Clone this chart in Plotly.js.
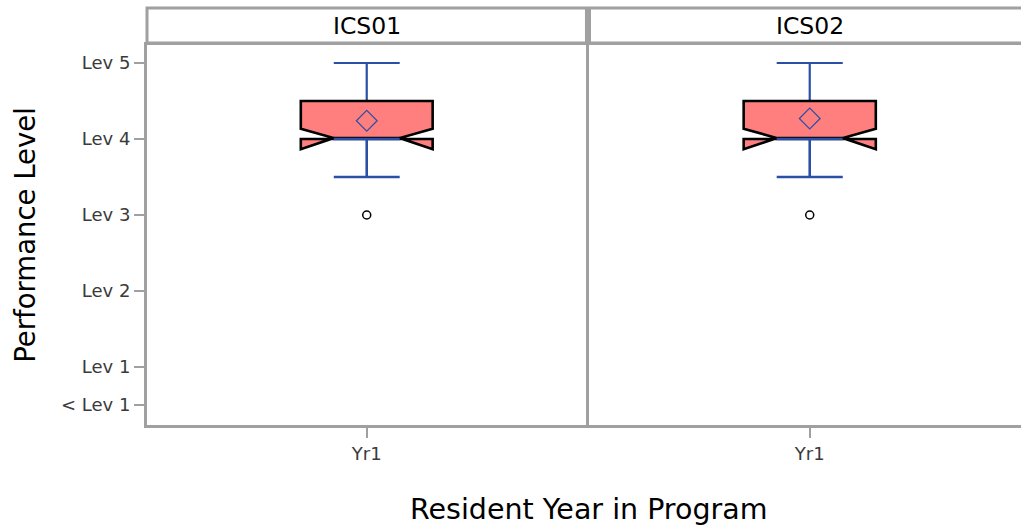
<!DOCTYPE html>
<html>
<head>
<meta charset="utf-8">
<script src="https://cdn.plot.ly/plotly-3.0.1.min.js"></script>
<style>
  html, body { margin: 0; padding: 0; overflow: hidden; background: #fff; }
  #chart { width: 1031px; height: 531px; }
</style>
</head>
<body>
<div id="chart"></div>
<script>
// ---- data ----
const panels = ['ICS01', 'ICS02'];
const categories = ['Yr1'];
const q1Values = [4, 4];
const medianValues = [4, 4];
const q3Values = [4.5, 4.5];
const lowerWhisker = [3.5, 3.5];
const upperWhisker = [5, 5];
const meanValues = [4.24, 4.27];
const notchSpan = [0.135, 0.135];
const outlierValues = [[3], [3]];
const yTickValues = [0.5, 1, 2, 3, 4, 5];
const yTickLabels = ['< Lev 1', 'Lev 1', 'Lev 2', 'Lev 3', 'Lev 4', 'Lev 5'];

// ---- styles ----
const FONT = 'DejaVu Sans, sans-serif';
const BLUE = '#2A4FA6';
const FILL = '#FF7F7F';
const FRAME = '#A0A0A0';
const BOXW = 0.3;

const traces = [];
panels.forEach((p, i) => {
  const xa = i === 0 ? 'x' : 'x2';
  const ya = i === 0 ? 'y' : 'y2';
  const pos = [0];
  // upper whisker (under the box)
  traces.push({
    type: 'box', xaxis: xa, yaxis: ya, x: pos,
    q1: [q3Values[i]], median: [q3Values[i]], q3: [q3Values[i]],
    lowerfence: [q3Values[i]], upperfence: [upperWhisker[i]],
    width: BOXW / 2, whiskerwidth: 1,
    line: { color: BLUE, width: 2.2 }, fillcolor: 'rgba(0,0,0,0)',
    hoverinfo: 'skip', showlegend: false
  });
  // notched box
  traces.push({
    type: 'box', xaxis: xa, yaxis: ya, x: pos,
    q1: [q1Values[i]], median: [medianValues[i]], q3: [q3Values[i]],
    lowerfence: [q1Values[i]], upperfence: [q3Values[i]],
    notched: true, notchspan: [notchSpan[i]], notchwidth: 0.25,
    width: BOXW, whiskerwidth: 0, showwhiskers: false,
    line: { color: '#000000', width: 2.6 }, fillcolor: FILL,
    hoverinfo: 'skip', showlegend: false
  });
  // median + lower whisker (over the box)
  traces.push({
    type: 'box', xaxis: xa, yaxis: ya, x: pos,
    q1: [medianValues[i]], median: [medianValues[i]], q3: [medianValues[i]],
    lowerfence: [lowerWhisker[i]], upperfence: [medianValues[i]],
    width: BOXW / 2, whiskerwidth: 1,
    line: { color: BLUE, width: 2.6 }, fillcolor: 'rgba(0,0,0,0)',
    hoverinfo: 'skip', showlegend: false
  });
  // mean
  traces.push({
    type: 'scatter', mode: 'markers', xaxis: xa, yaxis: ya,
    x: pos, y: [meanValues[i]],
    marker: { symbol: 'diamond-open', size: 16, color: BLUE, line: { width: 1.2, color: BLUE } },
    hoverinfo: 'skip', showlegend: false
  });
  // outliers
  traces.push({
    type: 'scatter', mode: 'markers', xaxis: xa, yaxis: ya,
    x: outlierValues[i].map(() => 0), y: outlierValues[i],
    marker: { symbol: 'circle-open', size: 8, color: '#000', line: { width: 1.5, color: '#000' } },
    hoverinfo: 'skip', showlegend: false
  });
});

const PLOT_H = 531 - 45 - 106;
const d1 = [0, 0.4977];
const d2 = [0.5011, 1];
const hdrTop = 1 + 37 / PLOT_H;
const hdrBot = 1 + 2 / PLOT_H;

const xBase = {
  range: [-0.5, 0.5], tickvals: [0], ticktext: categories,
  ticks: 'outside', ticklen: 10, tickwidth: 2, tickcolor: FRAME,
  tickfont: { family: FONT, size: 18, color: '#3a3a3a' },
  showgrid: false, zeroline: false, showline: true, mirror: true,
  linecolor: FRAME, linewidth: 3, fixedrange: true
};
const yBase = {
  range: [0.237, 5.237], showgrid: false, zeroline: false,
  showline: true, mirror: true, linecolor: FRAME, linewidth: 3, fixedrange: true
};

const layout = {
  width: 1031, height: 531,
  margin: { l: 147, r: 1, t: 45, b: 106 },
  paper_bgcolor: '#fff', plot_bgcolor: '#fff',
  font: { family: FONT },
  showlegend: false,
  xaxis: Object.assign({}, xBase, { domain: d1, anchor: 'y' }),
  xaxis2: Object.assign({}, xBase, { domain: d2, anchor: 'y2' }),
  yaxis: Object.assign({}, yBase, {
    anchor: 'x', tickvals: yTickValues, ticktext: yTickLabels,
    ticks: 'outside', ticklen: 10, tickwidth: 2, tickcolor: FRAME,
    tickfont: { family: FONT, size: 18, color: '#3a3a3a' },
    title: { text: 'Performance Level', font: { family: FONT, size: 27.5, color: '#000' }, standoff: 18 }
  }),
  yaxis2: Object.assign({}, yBase, { anchor: 'x2', matches: 'y', showticklabels: false, ticks: '' }),
  shapes: [
    { type: 'rect', xref: 'paper', yref: 'paper', x0: d1[0], x1: d1[1], y0: hdrBot, y1: hdrTop,
      fillcolor: '#fff', line: { color: FRAME, width: 3 } },
    { type: 'rect', xref: 'paper', yref: 'paper', x0: d2[0], x1: d2[1], y0: hdrBot, y1: hdrTop,
      fillcolor: '#fff', line: { color: FRAME, width: 3 } }
  ],
  annotations: [
    { xref: 'paper', yref: 'paper', x: (d1[0] + d1[1]) / 2, y: (hdrTop + hdrBot) / 2,
      text: panels[0], showarrow: false, xanchor: 'center', yanchor: 'middle',
      font: { family: FONT, size: 23.5, color: '#000' } },
    { xref: 'paper', yref: 'paper', x: (d2[0] + d2[1]) / 2, y: (hdrTop + hdrBot) / 2,
      text: panels[1], showarrow: false, xanchor: 'center', yanchor: 'middle',
      font: { family: FONT, size: 23.5, color: '#000' } },
    { xref: 'paper', yref: 'paper', x: 0.5, y: -(509 - 425) / PLOT_H,
      text: 'Resident Year in Program', showarrow: false, xanchor: 'center', yanchor: 'middle',
      font: { family: FONT, size: 28.5, color: '#000' } }
  ]
};

Plotly.newPlot('chart', traces, layout, { staticPlot: true, displayModeBar: false });
</script>
</body>
</html>
